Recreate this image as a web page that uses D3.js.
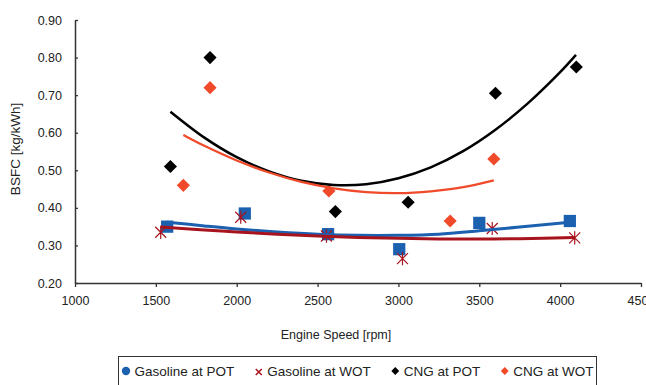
<!DOCTYPE html>
<html>
<head>
    <meta charset="utf-8">
    <title>BSFC vs engine speed</title>
    <style>
        body { margin: 0; background: white }
        text { font-family: "Liberation Sans", Arial, sans-serif; fill: #222 }
    </style>
    <script src="https://cdnjs.cloudflare.com/ajax/libs/d3/7.8.5/d3.min.js"></script>
</head>
<body>
    <script>
        const width = 646
        const height = 385
        const plotLeft = 75, plotRight = 641, plotTop = 20, plotBottom = 283

        const xTicks = [1000, 1500, 2000, 2500, 3000, 3500, 4000, 4500]
        const yTicks = [0.2, 0.3, 0.4, 0.5, 0.6, 0.7, 0.8, 0.9]

        // measured points
        const gasPotRpm = [1570, 2050, 2565, 3005, 3500, 4060]
        const gasPotBsfc = [0.35, 0.385, 0.33, 0.29, 0.36, 0.365]
        const gasWotRpm = [1530, 2025, 2555, 3025, 3580, 4090]
        const gasWotBsfc = [0.335, 0.375, 0.325, 0.265, 0.345, 0.32]
        const cngPotRpm = [1590, 1835, 2610, 3060, 3600, 4100]
        const cngPotBsfc = [0.51, 0.80, 0.39, 0.415, 0.705, 0.775]
        const cngWotRpm = [1670, 1835, 2570, 3320, 3590]
        const cngWotBsfc = [0.46, 0.72, 0.445, 0.365, 0.53]

        // trendlines
        const gasPotTrendRpm = [1570, 1800, 2000, 2250, 2500, 2750, 3000, 3250, 3500, 3750, 4060]
        const gasPotTrendBsfc = [0.362, 0.352, 0.344, 0.336, 0.330, 0.327, 0.327, 0.330, 0.339, 0.349, 0.362]
        const gasWotTrendRpm = [1530, 1800, 2000, 2250, 2500, 2750, 3000, 3250, 3500, 3750, 4090]
        const gasWotTrendBsfc = [0.349, 0.341, 0.336, 0.330, 0.325, 0.321, 0.319, 0.317, 0.317, 0.318, 0.321]
        const cngPotTrendRpm = [1590, 1800, 2000, 2200, 2400, 2600, 2800, 3000, 3200, 3400, 3600, 3800, 4000, 4098]
        const cngPotTrendBsfc = [0.656, 0.587, 0.535, 0.497, 0.472, 0.461, 0.463, 0.479, 0.508, 0.551, 0.608, 0.678, 0.761, 0.807]
        const cngWotTrendRpm = [1670, 1800, 2000, 2200, 2400, 2600, 2800, 3000, 3200, 3400, 3590]
        const cngWotTrendBsfc = [0.594, 0.565, 0.526, 0.494, 0.469, 0.452, 0.442, 0.439, 0.444, 0.455, 0.473]

        const legendLabels = ["Gasoline at POT", "Gasoline at WOT", "CNG at POT", "CNG at WOT"]

        const blue = "#1c60b0"
        const orange = "#f04a2a"
        const darkRed = "#a8141e"

        let svg = d3.select("body").append("svg")
            .attr("width", width)
            .attr("height", height)

        let x = d3.scaleLinear().domain([1000, 4500]).range([plotLeft, plotRight])
        let y = d3.scaleLinear().domain([0.2, 0.9]).range([plotBottom, plotTop])

        // axes
        let xAxis = svg.append("g")
            .attr("transform", `translate(0, ${plotBottom})`)
            .call(d3.axisBottom(x).tickValues(xTicks).tickFormat(d3.format("d")).tickSize(4).tickSizeOuter(0).tickPadding(9))
        let yAxis = svg.append("g")
            .attr("transform", `translate(${plotLeft}, 0)`)
            .call(d3.axisLeft(y).tickValues(yTicks).tickFormat(d3.format(".2f")).tickSize(3).tickSizeOuter(0).tickPadding(10))
        yAxis.selectAll(".tick line").attr("x2", 3)
        ;[xAxis, yAxis].forEach(a => {
            a.select(".domain").attr("stroke", "#333").attr("stroke-width", 1.5)
            a.selectAll(".tick line").attr("stroke", "#333").attr("stroke-width", 1.3)
            a.selectAll(".tick text").attr("font-size", 12.5).attr("fill", "#222")
                .attr("font-family", "Liberation Sans, Arial, sans-serif")
        })

        svg.append("text")
            .attr("transform", `translate(20, 149) rotate(-90)`)
            .attr("text-anchor", "middle")
            .attr("font-size", 13.5)
            .text("BSFC [kg/kWh]")
        svg.append("text")
            .attr("x", 336)
            .attr("y", 339)
            .attr("text-anchor", "middle")
            .attr("font-size", 12.5)
            .text("Engine Speed [rpm]")

        // markers
        let square = d3.symbol().type(d3.symbolSquare).size(150)
        let diamond = d3.symbol().type(d3.symbolDiamond2).size(110)
        let star = s => `M${-s},${-s}L${s},${s}M${-s},${s}L${s},${-s}M0,${-s * 1.2}L0,${s * 1.2}`

        svg.selectAll(".gpot")
            .data(d3.zip(gasPotRpm, gasPotBsfc))
            .join("path")
                .attr("class", "gpot")
                .attr("d", square)
                .attr("fill", blue)
                .attr("transform", d => `translate(${x(d[0])},${y(d[1])})`)

        svg.selectAll(".cpot")
            .data(d3.zip(cngPotRpm, cngPotBsfc))
            .join("path")
                .attr("class", "cpot")
                .attr("d", diamond)
                .attr("fill", "black")
                .attr("transform", d => `translate(${x(d[0])},${y(d[1])})`)

        svg.selectAll(".cwot")
            .data(d3.zip(cngWotRpm, cngWotBsfc))
            .join("path")
                .attr("class", "cwot")
                .attr("d", diamond)
                .attr("fill", orange)
                .attr("transform", d => `translate(${x(d[0])},${y(d[1])})`)

        svg.selectAll(".gwot")
            .data(d3.zip(gasWotRpm, gasWotBsfc))
            .join("path")
                .attr("class", "gwot")
                .attr("d", star(5.5))
                .attr("fill", "none")
                .attr("stroke", darkRed)
                .attr("stroke-width", 1.2)
                .attr("transform", d => `translate(${x(d[0])},${y(d[1])})`)

        // trendlines
        let line = d3.line().x(d => x(d[0])).y(d => y(d[1])).curve(d3.curveCatmullRom.alpha(0.5))
        let trends = [
            {xs: gasPotTrendRpm, ys: gasPotTrendBsfc, color: blue, w: 3},
            {xs: gasWotTrendRpm, ys: gasWotTrendBsfc, color: darkRed, w: 3},
            {xs: cngPotTrendRpm, ys: cngPotTrendBsfc, color: "black", w: 2.5},
            {xs: cngWotTrendRpm, ys: cngWotTrendBsfc, color: orange, w: 2.2}
        ]
        svg.selectAll(".trend")
            .data(trends)
            .join("path")
                .attr("class", "trend")
                .attr("d", d => line(d3.zip(d.xs, d.ys)))
                .attr("fill", "none")
                .attr("stroke", d => d.color)
                .attr("stroke-width", d => d.w)

        // legend, packed between the box edges
        let legend = svg.append("g")
        let boxX = 118.5, boxW = 478
        legend.append("rect")
            .attr("x", boxX).attr("y", 356.5)
            .attr("width", boxW).attr("height", 40)
            .attr("fill", "white").attr("stroke", "#333").attr("stroke-width", 1)
        let ly = 371
        let kinds = ["circle", "x", "diamond", "diamond"]
        let colors = [blue, darkRed, "black", orange]
        let texts = legendLabels.map(l => legend.append("text")
            .attr("y", ly + 4.5)
            .attr("font-size", 13.5)
            .text(l))
        let widths = texts.map(t => t.node().getComputedTextLength())
        let markW = 9, markGap = 4, pad = 3
        let free = boxW - 2 * pad - d3.sum(widths) - 4 * (markW + markGap)
        let gap = free / 3
        let cx = boxX + pad
        legendLabels.forEach((l, i) => {
            let mx = cx + markW / 2
            if (kinds[i] == "circle") {
                legend.append("circle").attr("cx", mx).attr("cy", ly).attr("r", 4.2).attr("fill", colors[i])
            } else if (kinds[i] == "x") {
                legend.append("path").attr("d", "M-3,-3L3,3M-3,3L3,-3")
                    .attr("transform", `translate(${mx},${ly + 1})`)
                    .attr("stroke", colors[i]).attr("stroke-width", 1.5)
            } else {
                legend.append("path").attr("d", d3.symbol().type(d3.symbolDiamond2).size(40))
                    .attr("transform", `translate(${mx},${ly})`)
                    .attr("fill", colors[i])
            }
            texts[i].attr("x", cx + markW + markGap)
            cx += markW + markGap + widths[i] + gap
        })
    </script>
</body>
</html>
